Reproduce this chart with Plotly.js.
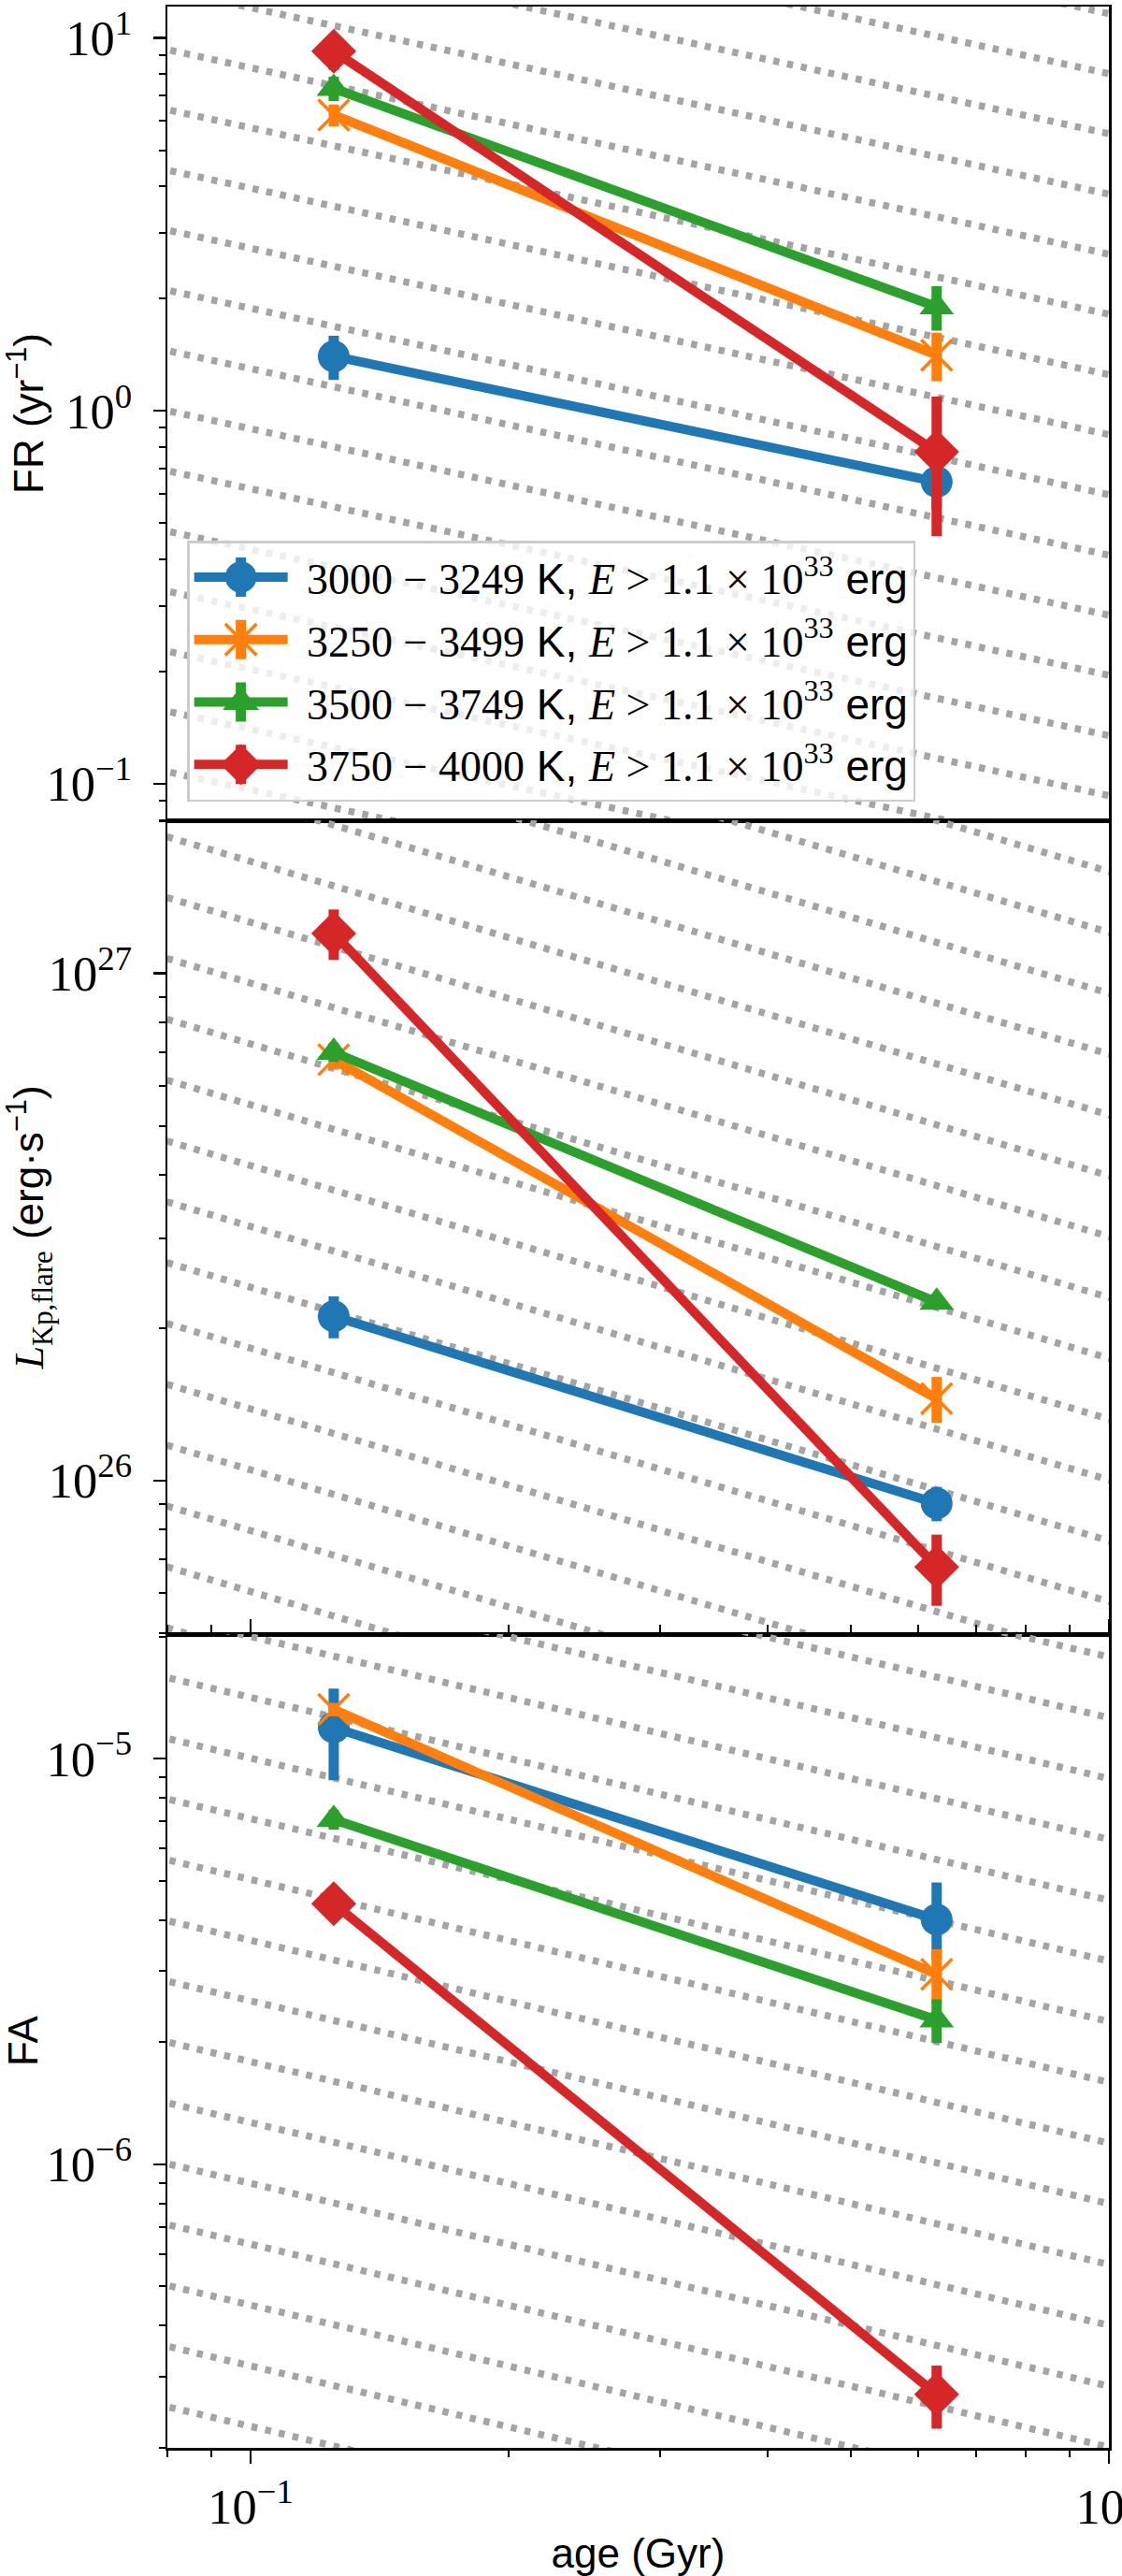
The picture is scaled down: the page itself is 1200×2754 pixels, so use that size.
<!DOCTYPE html>
<html><head><meta charset="utf-8">
<script src="https://cdn.plot.ly/plotly-3.0.1.min.js"></script>
<style>body{margin:0;background:#fff}</style></head>
<body><div id="chart" style="width:1200px;height:2754px"></div>
<script>
// ---- data ----
const ages = [0.125, 0.63];
const tempBins = ['3000 − 3249', '3250 − 3499', '3500 − 3749', '3750 − 4000'];
const energyCut = '1.1 × 10<sup>33</sup>';
const colors = ['#1f77b4', '#ff7f0e', '#2ca02c', '#d62728'];
const symbols = ['circle', 'x-thin-open', 'triangle-up', 'diamond'];
const markerSizes = [34, 33, 32, 37];

// Flare rate FR (yr^-1)
const frValues = [[1.40, 0.645], [6.21, 1.41], [7.32, 1.90], [9.21, 0.776]];
const frErrPlus = [[0.19, 0.10], [0.42, 0.21], [0.55, 0.26], [1.0, 0.316]];
const frErrMinus = [[0.19, 0.10], [0.42, 0.21], [0.55, 0.26], [1.0, 0.315]];

// Flare luminosity L_Kp,flare (erg s^-1)
const lumValues = [[2.107e26, 9.01e25], [6.76e26, 1.45e26], [6.99e26, 2.247e26], [1.199e27, 6.75e25]];
const lumErrPlus = [[2.0e25, 7.0e24], [3.0e25, 1.5e25], [3.0e25, 1.0e24], [1.38e26, 1.07e25]];
const lumErrMinus = [[2.0e25, 7.0e24], [3.0e25, 1.5e25], [3.0e25, 1.0e24], [1.36e26, 1.09e25]];

// Flaring activity FA
const faValues = [[1.193e-5, 4.01e-6], [1.322e-5, 2.94e-6], [7.08e-6, 2.27e-6], [4.39e-6, 2.71e-7]];
const faErrPlus = [[2.96e-6, 9.4e-7], [5.0e-7, 4.5e-7], [4.0e-7, 2.8e-7], [3.5e-7, 4.8e-8]];
const faErrMinus = [[3.09e-6, 8.2e-7], [5.0e-7, 4.5e-7], [4.0e-7, 2.8e-7], [3.5e-7, 4.8e-8]];

// tick label replacements (plain "1" and "10" shown as powers of ten)
const tickAlias = {'1': '10<sup>0</sup>', '10': '10<sup>1</sup>'};

// guide lines ~ age^-0.5 : log10 value of each line at age = 0.1 Gyr
const guideSlope = -0.5;
const guideAges = [0.05, 1.5];
const guideFR = [1.565, 1.404, 1.243, 1.081, 0.920, 0.759, 0.597, 0.436, 0.275, 0.113, -0.048, -0.209, -0.371, -0.532, -0.693, -0.854, -1.016];
const guideLum = [27.701, 27.581, 27.461, 27.341, 27.221, 27.101, 26.981, 26.861, 26.741, 26.621, 26.501, 26.381, 26.261, 26.141, 26.021, 25.901, 25.781, 25.661];
const guideFA = [-4.2495, -4.3993, -4.549, -4.699, -4.849, -4.999, -5.148, -5.298, -5.448, -5.597, -5.747, -5.897, -6.047, -6.197, -6.347, -6.497, -6.646];

// ---- traces ----
const SANS = 'Liberation Sans, Arial, sans-serif';
const SERIF = 'Liberation Serif, Times New Roman, serif';
const traces = [];

function addGuides(list, yaxis) {
  list.forEach(c => {
    traces.push({
      x: guideAges,
      y: guideAges.map(a => Math.pow(10, c + guideSlope * (Math.log10(a) + 1))),
      xaxis: 'x', yaxis: yaxis, mode: 'lines', showlegend: false, hoverinfo: 'skip',
      line: {color: '#a4a4a4', width: 7.5, dash: '6.5px,8.5px'}
    });
  });
}
addGuides(guideFR, 'y');
addGuides(guideLum, 'y2');
addGuides(guideFA, 'y3');

function legendName(i) {
  return '\u2004' + tempBins[i] + '<span style="font-family:' + SANS + '"> K, </span><i>E</i> &gt; ' + energyCut +
    '<span style="font-family:' + SANS + '"> erg</span>';
}

function addSeries(vals, ep, em, yaxis, showLegend) {
  vals.forEach((v, i) => {
    const isX = symbols[i] === 'x-thin-open';
    traces.push({
      x: ages, y: v, xaxis: 'x', yaxis: yaxis,
      mode: 'lines+markers', name: legendName(i), legendgroup: 'g' + i, showlegend: showLegend,
      line: {color: colors[i], width: 10},
      marker: {symbol: symbols[i], size: markerSizes[i], color: colors[i],
               line: {color: colors[i], width: isX ? 3.5 : 0}},
      error_y: {type: 'data', symmetric: false, array: ep[i], arrayminus: em[i],
                color: colors[i], thickness: 11, width: 0}
    });
  });
}
addSeries(frValues, frErrPlus, frErrMinus, 'y', true);
addSeries(lumValues, lumErrPlus, lumErrMinus, 'y2', false);
addSeries(faValues, faErrPlus, faErrMinus, 'y3', false);

// ---- layout ----
const tickFont = {family: SERIF, size: 42, color: '#000'};
const titleFont = {family: SANS, size: 44, color: '#000'};
function yAxis(domain, range, title) {
  return {
    type: 'log', domain: domain, range: range, anchor: 'x',
    showline: true, linecolor: '#000', linewidth: 2.5, mirror: true,
    ticks: 'outside', ticklen: 13, tickwidth: 2.5, tickcolor: '#000', ticklabelstandoff: 14,
    dtick: 1, exponentformat: 'power', labelalias: tickAlias, tickfont: tickFont,
    minor: {ticks: 'outside', ticklen: 7, tickwidth: 2, tickcolor: '#000', dtick: 'D1', showgrid: false},
    showgrid: false, zeroline: false, automargin: false,
    title: {text: title, font: titleFont, standoff: 0}
  };
}

const layout = {
  width: 1200, height: 2754,
  margin: {l: 179, r: 14, t: 7, b: 137},
  paper_bgcolor: '#fff', plot_bgcolor: '#fff',
  showlegend: true,
  legend: {
    x: 0.021, y: 0.7812, xanchor: 'left', yanchor: 'top',
    bgcolor: 'rgba(255,255,255,0.8)', bordercolor: '#cccccc', borderwidth: 2.5,
    font: {family: SERIF, size: 46, color: '#000'}, itemwidth: 100, tracegroupgap: 4
  },
  xaxis: {
    type: 'log', range: [Math.log10(0.08), 0], domain: [0, 1], anchor: 'y3',
    showline: true, linecolor: '#000', linewidth: 2.5, mirror: 'all',
    ticks: 'outside', ticklen: 14, tickwidth: 2.5, tickcolor: '#000', ticklabelstandoff: 4,
    ticklabeloverflow: 'allow',
    dtick: 1, exponentformat: 'power', labelalias: tickAlias, tickfont: tickFont,
    minor: {ticks: 'outside', ticklen: 7.5, tickwidth: 2, tickcolor: '#000', dtick: 'D1', showgrid: false},
    showgrid: false, zeroline: false, automargin: false,
    title: {text: 'age (Gyr)', font: titleFont, standoff: 22}
  },
  yaxis: yAxis([2/3, 1], [-1.098, 1.084], 'FR (yr<sup>−1</sup>)'),
  yaxis2: yAxis([1/3, 2/3], [25.697, 27.302],
    '<span style="font-family:' + SERIF + '"><i>L</i><sub>Kp,flare</sub></span> (erg·s<sup>−1</sup>)'),
  yaxis3: yAxis([0, 1/3], [-6.699, -4.693], 'FA')
};

Plotly.newPlot('chart', traces, layout, {staticPlot: true, displayModeBar: false}).then(gd => {
  // legend symbols drawn like the plotted points: full-size marker with its vertical error bar
  gd.querySelectorAll('.legend .traces').forEach((tr, i) => {
    const pts = tr.querySelector('.legendpoints');
    tr.querySelectorAll('path.scatterpts').forEach(p => {
      const t = p.getAttribute('transform') || '';
      const m = /translate\(\s*([-\d.]+)[ ,]*([-\d.]+)?\s*\)/.exec(t);
      const cx = m ? +m[1] : 20, cy = (m && m[2]) ? +m[2] : 0;
      p.setAttribute('transform', t + ' scale(2.1)');
      p.style.vectorEffect = 'non-scaling-stroke';
      if (pts) {
        const bar = document.createElementNS('http://www.w3.org/2000/svg', 'path');
        bar.setAttribute('d', 'M' + cx + ',' + (cy - 21) + 'V' + (cy + 21));
        bar.setAttribute('stroke', colors[i % colors.length]);
        bar.setAttribute('stroke-width', 11);
        bar.setAttribute('fill', 'none');
        pts.insertBefore(bar, pts.firstChild);
      }
    });
  });
});
</script></body></html>
